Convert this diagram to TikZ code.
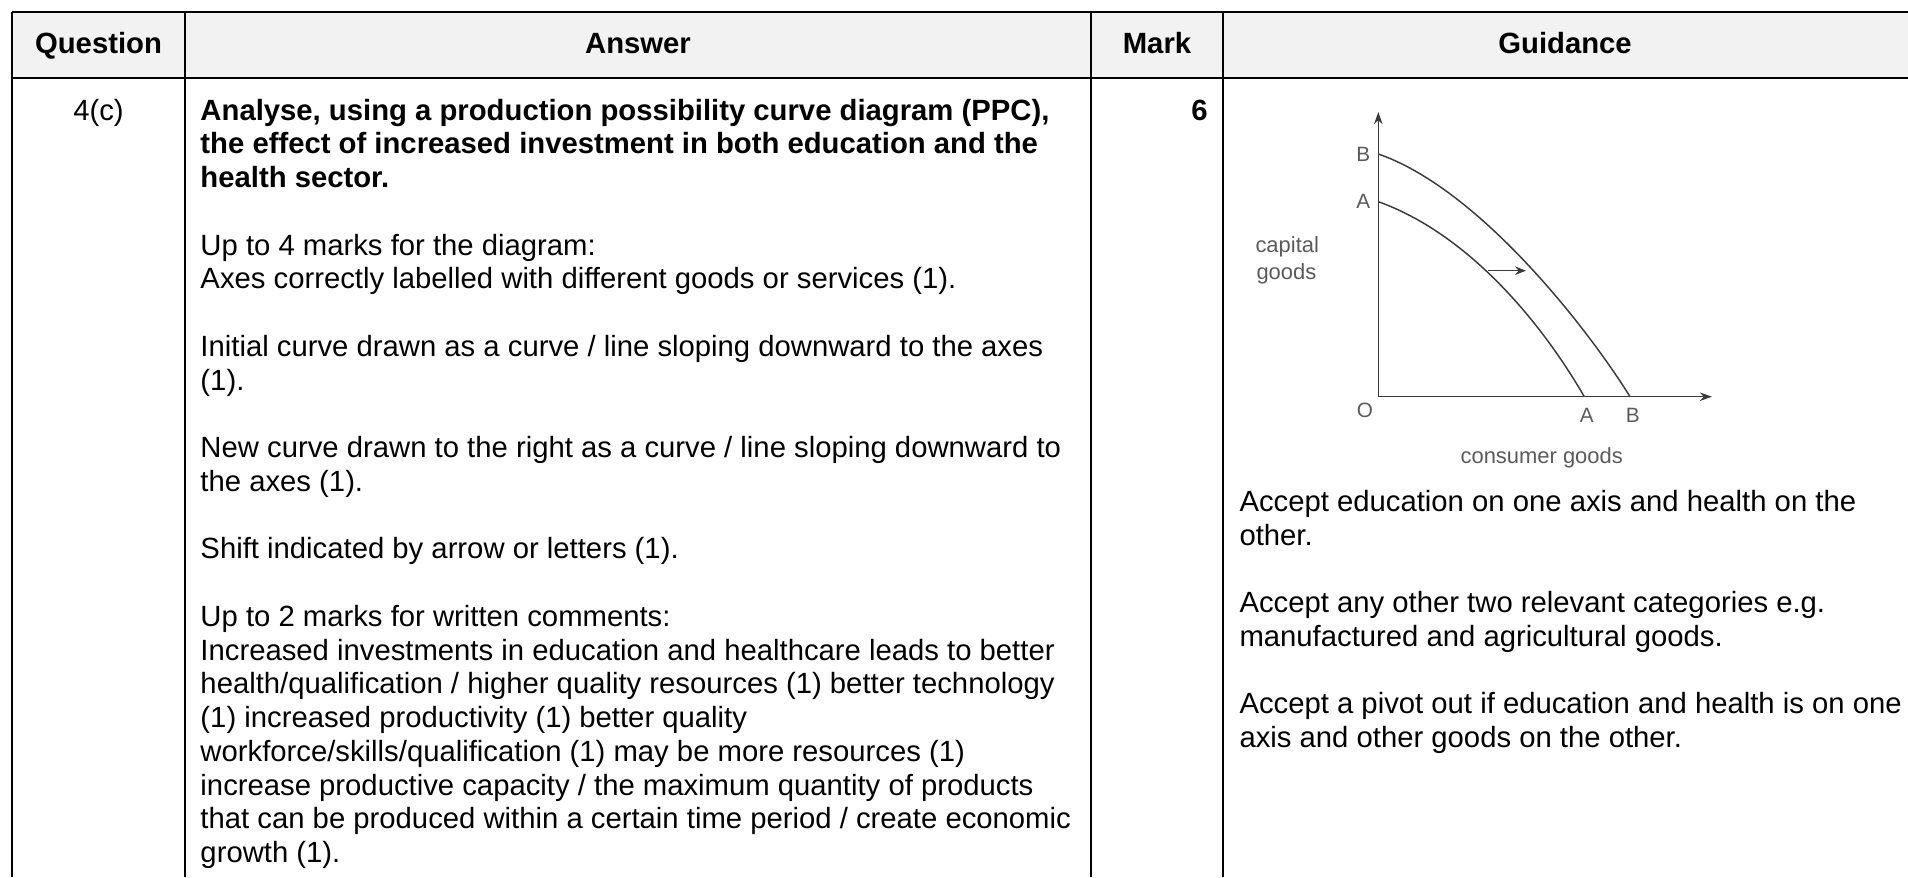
\documentclass[tikz,border=0pt]{standalone}
\usepackage{fontspec}
\setmainfont{Liberation Sans}
\usetikzlibrary{arrows.meta}
\definecolor{hdr}{HTML}{F2F2F2}
\definecolor{ppc}{HTML}{3A3A3A}
\definecolor{ppclab}{HTML}{5A5A5A}
\begin{document}
\begin{tikzpicture}[x=0.41pt,y=-0.41pt,
  txt/.style={anchor=base west,inner sep=0pt,font=\fontsize{12}{13.8}\selectfont},
  head/.style={anchor=base,inner sep=0pt,font=\fontsize{12}{13.8}\selectfont\bfseries},
  rule/.style={line width=0.6pt,black},
  axis/.style={line width=0.6pt,ppc,-{Stealth[length=5pt,width=3.5pt]}},
  curve/.style={line width=0.6pt,ppc},
  plab/.style={inner sep=0pt,text=ppclab,font=\fontsize{8.5}{10}\selectfont},
  alab/.style={anchor=base west,inner sep=0pt,text=ppclab,font=\fontsize{9}{10.5}\selectfont}]
\useasboundingbox (0,0) rectangle (1908,877);
% header background
\fill[hdr] (12,12) rectangle (1908,78);
% table rules
\draw[rule] (12,12) -- (1908,12);
\draw[line width=1.2pt] (12,78) -- (1908,78);
\draw[rule] (12,12) -- (12,877);
\draw[rule] (185,12) -- (185,877);
\draw[rule] (1091,12) -- (1091,877);
\draw[rule] (1223,12) -- (1223,877);
% header texts
\node[head] (hq) at (98.5,53) {Question};
\node[head] (ha) at (638,53) {Answer};
\node[head] (hm) at (1157,53) {Mark};
\node[head] (hg) at (1565,53) {Guidance};
% question / mark
\node[txt,anchor=base] (q) at (98.5,120) {4(c)};
\node[txt,anchor=base east,font=\fontsize{12}{13.8}\selectfont\bfseries] (mk) at (1208,120) {6};
% answer
\node[txt,font=\fontsize{12}{13.8}\selectfont\bfseries] (a1) at (200,120) {Analyse, using a production possibility curve diagram (PPC),};
\node[txt,font=\fontsize{12}{13.8}\selectfont\bfseries] (a2) at (200,153.7) {the effect of increased investment in both education and the};
\node[txt,font=\fontsize{12}{13.8}\selectfont\bfseries] (a3) at (200,187.4) {health sector.};
\node[txt] (a4) at (200,255) {Up to 4 marks for the diagram:};
\node[txt] (a5) at (200,288.6) {Axes correctly labelled with different goods or services (1).};
\node[txt] (a6) at (200,356) {Initial curve drawn as a curve / line sloping downward to the axes};
\node[txt] (a7) at (200,390) {(1).};
\node[txt] (a8) at (200,457) {New curve drawn to the right as a curve / line sloping downward to};
\node[txt] (a9) at (200,491) {the axes (1).};
\node[txt] (a10) at (200,558.5) {Shift indicated by arrow or letters (1).};
\node[txt] (a11) at (200,626) {Up to 2 marks for written comments:};
\node[txt] (a12) at (200,660) {Increased investments in education and healthcare leads to better};
\node[txt] (a13) at (200,693.5) {health/qualification / higher quality resources (1) better technology};
\node[txt] (a14) at (200,727) {(1) increased productivity (1) better quality};
\node[txt] (a15) at (200,761) {workforce/skills/qualification (1) may be more resources (1)};
\node[txt] (a16) at (200,795) {increase productive capacity / the maximum quantity of products};
\node[txt] (a17) at (200,828.5) {that can be produced within a certain time period / create economic};
\node[txt] (a18) at (200,862) {growth (1).};
% guidance
\node[txt] (g1) at (1239,511.5) {Accept education on one axis and health on the};
\node[txt] (g2) at (1239,545.2) {other.};
\node[txt] (g3) at (1239,612.6) {Accept any other two relevant categories e.g.};
\node[txt] (g4) at (1239,646.3) {manufactured and agricultural goods.};
\node[txt] (g5) at (1239,713.7) {Accept a pivot out if education and health is on one};
\node[txt] (g6) at (1239,747.4) {axis and other goods on the other.};
% PPC diagram
\coordinate (O) at (1378.3,396.7);
\coordinate (ytop) at (1378.3,112);
\coordinate (xend) at (1712,396.7);
\coordinate (A1) at (1378.3,201.7);
\coordinate (A2) at (1584.3,396.7);
\coordinate (B1) at (1378.3,154);
\coordinate (B2) at (1630,396.7);
\coordinate (s1) at (1488.3,270.7);
\coordinate (s2) at (1526,270.7);
\draw[axis] (O) -- (ytop);
\draw[axis] (O) -- (xend);
\draw[curve] (A1) .. controls (1466.7,233.3) and (1540,320) .. (A2);
\draw[curve] (B1) .. controls (1482,190) and (1592,335) .. (B2);
\draw[line width=0.6pt,ppc,-{Stealth[length=4.5pt,width=3.5pt]}] (s1) -- (s2);
\node[plab] (lB1) at (1363.3,154) {B};
\node[plab] (lA1) at (1363.3,201.7) {A};
\node[plab] (lO) at (1365,410) {O};
\node[plab] (lA2) at (1586.7,415) {A};
\node[plab] (lB2) at (1632.7,415) {B};
\node[alab] (cap) at (1255,252) {capital};
\node[alab] (goo) at (1256,279) {goods};
\node[plab,font=\fontsize{9}{10.5}\selectfont] (cons) at (1541.7,458.3) {consumer goods};
\end{tikzpicture}
\end{document}
